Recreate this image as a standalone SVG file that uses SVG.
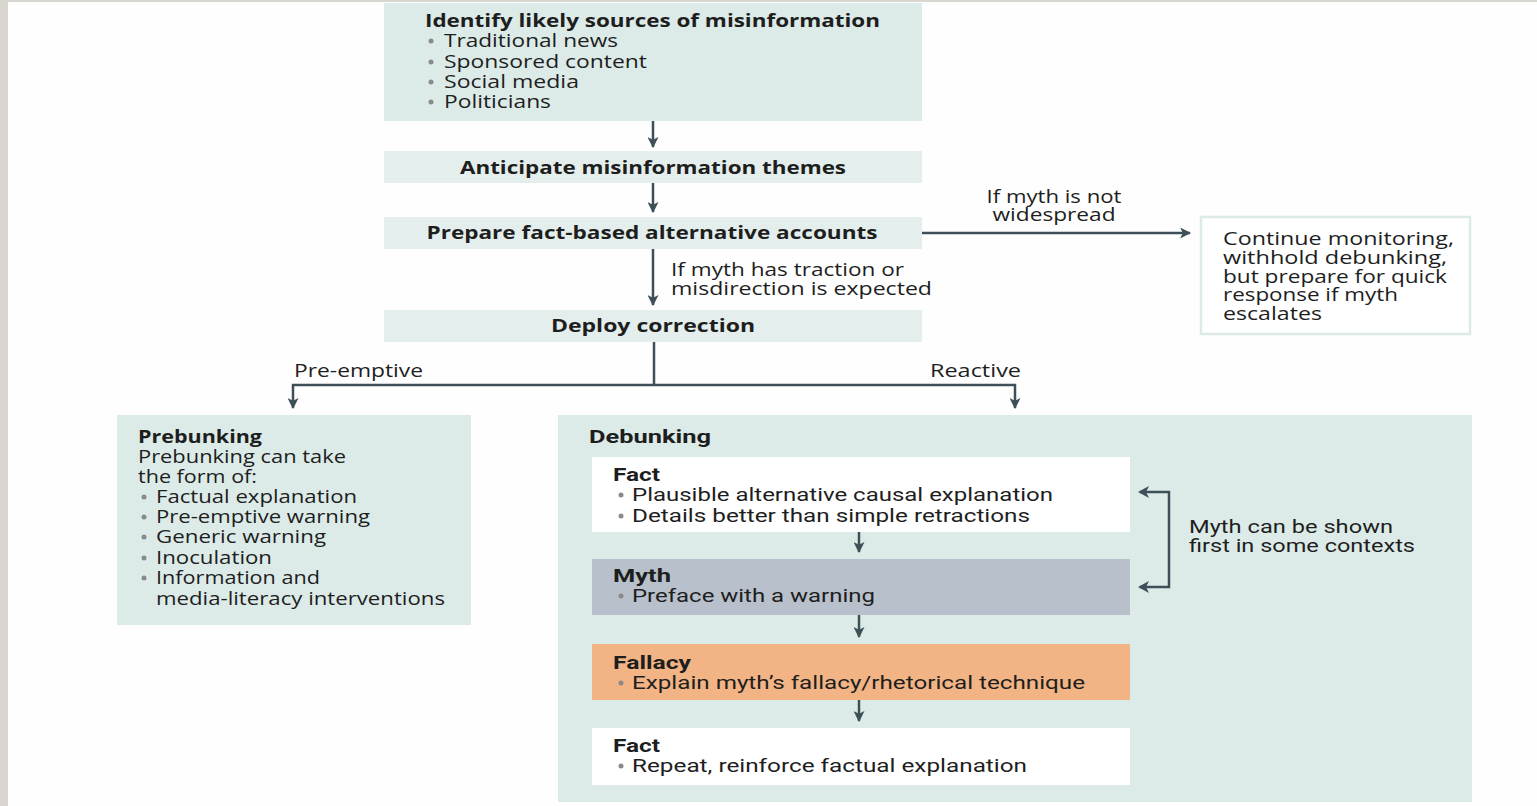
<svg xmlns="http://www.w3.org/2000/svg" width="1537" height="806" viewBox="0 0 1537 806">
<defs>
<marker id="ah" markerWidth="11" markerHeight="11" refX="9" refY="5" orient="auto-start-reverse" markerUnits="userSpaceOnUse" viewBox="0 0 10 10"><path d="M0,0 L10,5 L0,10 L2.5,5 Z" fill="#3d5057"/></marker>
<style>
.teal{fill:#dcebe8}
.lite{fill:#e4efed}
.t{font-family:"Open Sans","Liberation Sans",sans-serif;font-size:18px;fill:#1e1e1e}
.b{font-weight:bold}
.c{font-family:"Roboto","Liberation Sans",sans-serif;font-size:19px;fill:#1e1e1e}
.bul{fill:#8a8a8a}
.ln{stroke:#3d5057;stroke-width:2.5;fill:none}
</style>
</defs>
<rect width="1537" height="806" fill="#fefefe"/>
<rect x="0" y="0" width="8" height="806" fill="#d9d6cf"/>
<rect x="0" y="0" width="1537" height="2" fill="#d9d6cf"/>

<g id="sources">
<rect class="teal" x="384" y="3" width="538" height="118"/>
<text class="t b" x="425" y="27" textLength="455" lengthAdjust="spacingAndGlyphs">Identify likely sources of misinformation</text>
<circle class="bul" cx="431" cy="41" r="2.5"/><text class="t" x="444" y="47" textLength="174" lengthAdjust="spacingAndGlyphs">Traditional news</text>
<circle class="bul" cx="431" cy="62" r="2.5"/><text class="t" x="444" y="68" textLength="203" lengthAdjust="spacingAndGlyphs">Sponsored content</text>
<circle class="bul" cx="431" cy="82" r="2.5"/><text class="t" x="444" y="88" textLength="135" lengthAdjust="spacingAndGlyphs">Social media</text>
<circle class="bul" cx="431" cy="102" r="2.5"/><text class="t" x="444" y="108" textLength="107" lengthAdjust="spacingAndGlyphs">Politicians</text>
</g>

<g id="anticipate">
<rect class="lite" x="384" y="151" width="538" height="32"/>
<text class="t b" x="653" y="174" text-anchor="middle" textLength="386" lengthAdjust="spacingAndGlyphs">Anticipate misinformation themes</text>
</g>

<g id="prepare">
<rect class="lite" x="384" y="217" width="538" height="32"/>
<text class="t b" x="652" y="239" text-anchor="middle" textLength="451" lengthAdjust="spacingAndGlyphs">Prepare fact-based alternative accounts</text>
</g>

<g id="monitor">
<rect x="1201" y="217" width="269" height="117" fill="#ffffff" stroke="#dcebe8" stroke-width="2.5"/>
<text class="t" x="1223" y="245" textLength="231" lengthAdjust="spacingAndGlyphs">Continue monitoring,</text>
<text class="t" x="1223" y="264" textLength="224" lengthAdjust="spacingAndGlyphs">withhold debunking,</text>
<text class="t" x="1223" y="283" textLength="224" lengthAdjust="spacingAndGlyphs">but prepare for quick</text>
<text class="t" x="1223" y="301" textLength="175" lengthAdjust="spacingAndGlyphs">response if myth</text>
<text class="t" x="1223" y="320" textLength="99" lengthAdjust="spacingAndGlyphs">escalates</text>
</g>

<g id="deploy">
<rect class="lite" x="384" y="310" width="538" height="32"/>
<text class="t b" x="653" y="332" text-anchor="middle" textLength="204" lengthAdjust="spacingAndGlyphs">Deploy correction</text>
</g>

<g id="prebunking">
<rect class="teal" x="117" y="415" width="354" height="210"/>
<text class="t b" x="138" y="443" textLength="124" lengthAdjust="spacingAndGlyphs">Prebunking</text>
<text class="t" x="138" y="463" textLength="208" lengthAdjust="spacingAndGlyphs">Prebunking can take</text>
<text class="t" x="138" y="483" textLength="119" lengthAdjust="spacingAndGlyphs">the form of:</text>
<circle class="bul" cx="144" cy="497" r="2.5"/><text class="t" x="156" y="503" textLength="201" lengthAdjust="spacingAndGlyphs">Factual explanation</text>
<circle class="bul" cx="144" cy="517" r="2.5"/><text class="t" x="156" y="523" textLength="214" lengthAdjust="spacingAndGlyphs">Pre-emptive warning</text>
<circle class="bul" cx="144" cy="537" r="2.5"/><text class="t" x="156" y="543" textLength="170" lengthAdjust="spacingAndGlyphs">Generic warning</text>
<circle class="bul" cx="144" cy="558" r="2.5"/><text class="t" x="156" y="564" textLength="116" lengthAdjust="spacingAndGlyphs">Inoculation</text>
<circle class="bul" cx="144" cy="578" r="2.5"/><text class="t" x="156" y="584" textLength="164" lengthAdjust="spacingAndGlyphs">Information and</text>
<text class="t" x="156" y="605" textLength="289" lengthAdjust="spacingAndGlyphs">media-literacy interventions</text>
</g>

<g id="debunking">
<rect class="teal" x="558" y="415" width="914" height="387"/>
<text class="c b" x="589" y="443" textLength="122" lengthAdjust="spacingAndGlyphs">Debunking</text>
</g>

<g id="fact1">
<rect x="592" y="457" width="538" height="75" fill="#ffffff"/>
<text class="c b" x="613" y="481" textLength="47" lengthAdjust="spacingAndGlyphs">Fact</text>
<circle class="bul" cx="621" cy="495" r="2.5"/><text class="c" x="632" y="501" textLength="421" lengthAdjust="spacingAndGlyphs">Plausible alternative causal explanation</text>
<circle class="bul" cx="621" cy="516" r="2.5"/><text class="c" x="632" y="522" textLength="398" lengthAdjust="spacingAndGlyphs">Details better than simple retractions</text>
</g>

<g id="myth">
<rect x="592" y="559" width="538" height="56" fill="#b8c0cb"/>
<text class="c b" x="613" y="582" textLength="58" lengthAdjust="spacingAndGlyphs">Myth</text>
<circle class="bul" cx="621" cy="596" r="2.5"/><text class="c" x="632" y="602" textLength="243" lengthAdjust="spacingAndGlyphs">Preface with a warning</text>
</g>

<g id="fallacy">
<rect x="592" y="644" width="538" height="56" fill="#f2b484"/>
<text class="c b" x="613" y="669" textLength="78" lengthAdjust="spacingAndGlyphs">Fallacy</text>
<circle class="bul" cx="621" cy="683" r="2.5"/><text class="c" x="632" y="689" textLength="453" lengthAdjust="spacingAndGlyphs">Explain myth’s fallacy/rhetorical technique</text>
</g>

<g id="fact2">
<rect x="592" y="728" width="538" height="57" fill="#ffffff"/>
<text class="c b" x="613" y="752" textLength="47" lengthAdjust="spacingAndGlyphs">Fact</text>
<circle class="bul" cx="621" cy="766" r="2.5"/><text class="c" x="632" y="772" textLength="395" lengthAdjust="spacingAndGlyphs">Repeat, reinforce factual explanation</text>
</g>

<g id="connectors">
<line class="ln" x1="653" y1="121" x2="653" y2="147" marker-end="url(#ah)"/>
<line class="ln" x1="653" y1="183" x2="653" y2="212" marker-end="url(#ah)"/>
<line class="ln" x1="653" y1="249" x2="653" y2="305" marker-end="url(#ah)"/>
<line class="ln" x1="922" y1="233" x2="1190" y2="233" marker-end="url(#ah)"/>
<text class="t" x="1054" y="203" text-anchor="middle" textLength="135" lengthAdjust="spacingAndGlyphs">If myth is not</text>
<text class="t" x="1054" y="221" text-anchor="middle" textLength="123" lengthAdjust="spacingAndGlyphs">widespread</text>
<text class="t" x="671" y="276" textLength="233" lengthAdjust="spacingAndGlyphs">If myth has traction or</text>
<text class="t" x="671" y="295" textLength="261" lengthAdjust="spacingAndGlyphs">misdirection is expected</text>
<polyline class="ln" points="654,342 654,385"/>
<polyline class="ln" points="293,408 293,385 1015,385 1015,408" marker-start="url(#ah)" marker-end="url(#ah)"/>
<text class="t" x="294" y="377" textLength="129" lengthAdjust="spacingAndGlyphs">Pre-emptive</text>
<text class="t" x="930" y="377" textLength="91" lengthAdjust="spacingAndGlyphs">Reactive</text>
<line class="ln" x1="859" y1="532" x2="859" y2="552" marker-end="url(#ah)"/>
<line class="ln" x1="859" y1="615" x2="859" y2="637" marker-end="url(#ah)"/>
<line class="ln" x1="859" y1="700" x2="859" y2="721" marker-end="url(#ah)"/>
<polyline class="ln" points="1140,492 1169,492 1169,587 1140,587"/>
<path d="M1138,492 L1149,486 L1146,492 L1149,498 Z" fill="#3d5057"/>
<path d="M1138,587 L1149,581 L1146,587 L1149,593 Z" fill="#3d5057"/>
<text class="c" x="1189" y="533" textLength="204" lengthAdjust="spacingAndGlyphs">Myth can be shown</text>
<text class="c" x="1189" y="552" textLength="226" lengthAdjust="spacingAndGlyphs">first in some contexts</text>
</g>
</svg>
